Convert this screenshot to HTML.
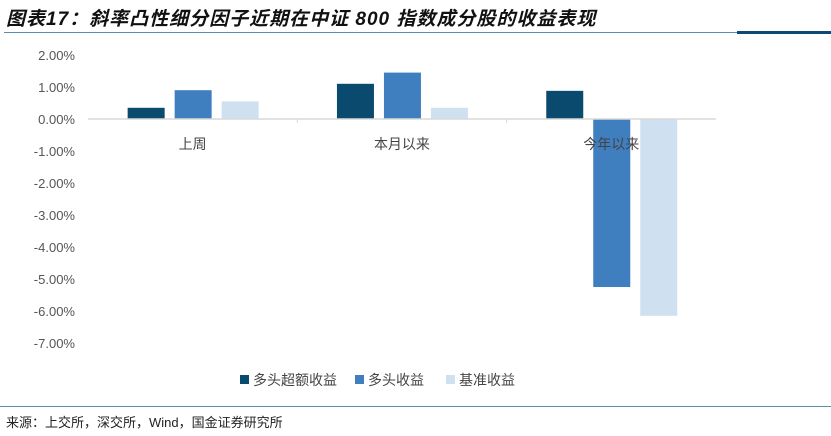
<!DOCTYPE html>
<html><head><meta charset="utf-8"><style>
body{margin:0;width:831px;height:436px;background:#fff;overflow:hidden;font-family:"Liberation Sans","Noto Sans CJK SC",sans-serif}
.title{position:absolute;left:6px;top:4px;font-size:19px;font-style:italic;font-weight:bold;color:#111;letter-spacing:1px}
</style></head><body>
<div class="title">图表17：斜率凸性细分因子近期在中证 800 指数成分股的收益表现</div>
<div style="position:absolute;left:4px;top:32px;width:827px;height:1px;background:#5a8cab"></div>
<div style="position:absolute;left:737px;top:31px;width:94px;height:3px;background:#0b4a72"></div>
<div style="position:absolute;left:0;top:406px;width:831px;height:1px;background:#5a8cab"></div>
<div style="position:absolute;left:6px;top:412px;font-size:13px;color:#222">来源：上交所，深交所，Wind，国金证券研究所</div>
<svg id="c" width="831" height="436" style="position:absolute;left:0;top:0"></svg>
<script>
const categories=["上周","本月以来","今年以来"];
const seriesNames=["多头超额收益","多头收益","基准收益"];
const excess=[0.35,1.1,0.88];
const longRet=[0.9,1.45,-5.25];
const bench=[0.55,0.35,-6.15];
const ticks=[2,1,0,-1,-2,-3,-4,-5,-6,-7];
const colors=["#0b4a6f","#3f7ebf","#cfe0f1"];
const svg=document.getElementById('c');
const NS="http://www.w3.org/2000/svg";
const y=v=>119-v*32;
const x0=88,gw=209.3;
function mk(t,a){const e=document.createElementNS(NS,t);for(const k in a)e.setAttribute(k,a[k]);svg.appendChild(e);return e;}
ticks.forEach(t=>{const e=mk('text',{x:75,y:y(t)+5,'text-anchor':'end','font-size':13,fill:'#555'});e.textContent=t.toFixed(2)+'%';

});
const series=[excess,longRet,bench];
series.forEach((s,si)=>s.forEach((v,ci)=>{const cx=x0+gw*(ci+0.5);const bx=cx-65+si*47;
const r=mk('rect',{x:bx,y:Math.min(y(v),y(0)),width:37,height:Math.abs(y(v)-y(0)),fill:colors[si]});

}));
const ax=mk('line',{x1:x0,x2:x0+gw*3,y1:119,y2:119,stroke:'#d9d9d9','stroke-width':1.5});


[1,2].forEach(i=>{const l=mk('line',{x1:x0+gw*i,x2:x0+gw*i,y1:119,y2:123,stroke:'#d9d9d9'});

});
categories.forEach((c,i)=>{const e=mk('text',{x:x0+gw*(i+0.5),y:149,'text-anchor':'middle','font-size':14,fill:'#444'});e.textContent=c;

});
const lx=[240,355,446];
seriesNames.forEach((n,i)=>{const r=mk('rect',{x:lx[i],y:375,width:9,height:9,fill:colors[i]});


const t=mk('text',{x:lx[i]+13,y:385,'font-size':14,fill:'#444'});t.textContent=n;

});
</script>
</body></html>
